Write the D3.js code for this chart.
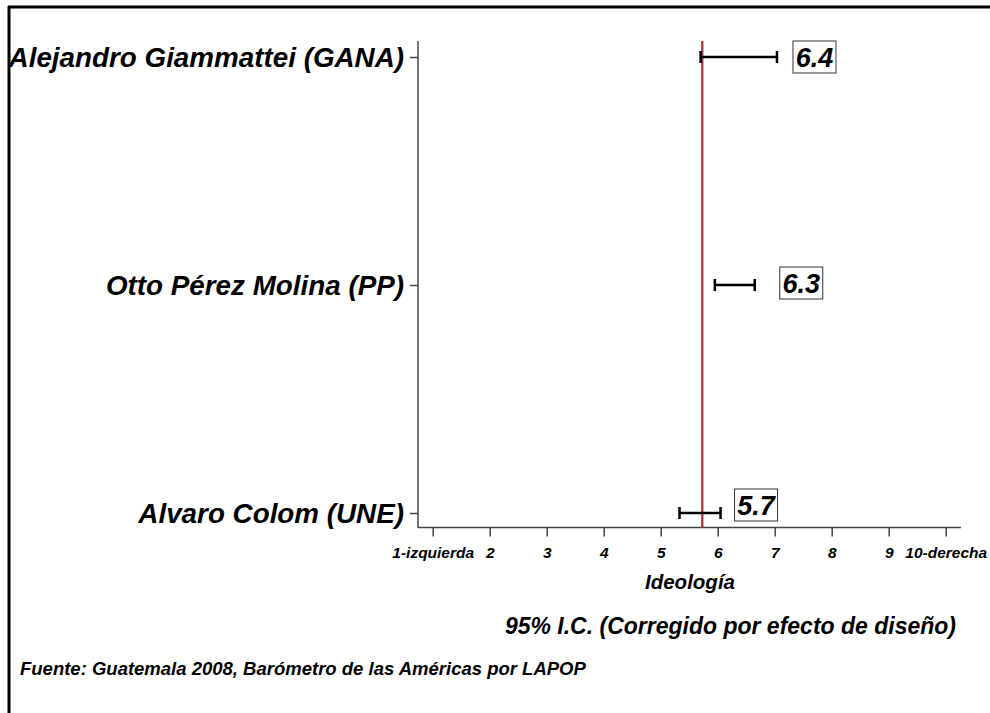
<!DOCTYPE html>
<html><head><meta charset="utf-8">
<script src="https://cdn.jsdelivr.net/npm/d3@7"></script>
<style>
body{margin:0;background:#fff;}
text{font-family:"Liberation Sans",Arial,sans-serif;font-weight:bold;font-style:italic;fill:#000;}
</style></head>
<body><svg id="c" width="990" height="713"></svg>
<script>
// ---- data ----
const categories = ["Alejandro Giammattei (GANA)", "Otto Pérez Molina (PP)", "Alvaro Colom (UNE)"];
const means = [6.37, 6.30, 5.69];
const lower = [5.70, 5.95, 5.33];
const upper = [7.04, 6.65, 6.05];
const referenceValue = 5.73;
const tickValues = [1,2,3,4,5,6,7,8,9,10];
const tickLabels = ["1-izquierda","2","3","4","5","6","7","8","9","10-derecha"];
const xTitle = "Ideología";
const note1 = "95% I.C. (Corregido por efecto de diseño)";
const note2 = "Fuente: Guatemala 2008, Barómetro de las Américas por LAPOP";
// label placement offsets (layout only)
const labelDx = [16, 25, 14];
const labelDy = [0, -2, -8];

const svg = d3.select("#c");
// frame
svg.append("line").attr("x1",8).attr("x2",990).attr("y1",7).attr("y2",7).attr("stroke","#000").attr("stroke-width",3);
svg.append("line").attr("x1",9).attr("x2",9).attr("y1",6).attr("y2",713).attr("stroke","#000").attr("stroke-width",3);

const x = d3.scaleLinear().domain([1,10]).range([432.7,945.7]);
const y = d3.scalePoint().domain(categories).range([57,513]);
const axisColor = "#444";
const axTop = 41, axBottom = 527.5, axLeft = 418, axRight = 961;

// axes lines
svg.append("line").attr("x1",axLeft).attr("x2",axLeft).attr("y1",axTop).attr("y2",axBottom).attr("stroke",axisColor).attr("stroke-width",1.5);
svg.append("line").attr("x1",axLeft).attr("x2",axRight).attr("y1",axBottom).attr("y2",axBottom).attr("stroke",axisColor).attr("stroke-width",1.5);

// x axis ticks
const xAxis = d3.axisBottom(x).tickValues(tickValues).tickSize(9).tickFormat((d,i)=>tickLabels[i]);
const gx = svg.append("g").attr("transform",`translate(0,${axBottom})`).call(xAxis);
gx.select(".domain").remove();
gx.selectAll(".tick line").attr("stroke",axisColor).attr("stroke-width",1.5);
gx.selectAll(".tick text").attr("y",30).attr("dy",0).style("font-size","15.5px").style("font-family","'Liberation Sans',Arial,sans-serif");

// y axis ticks
const yAxis = d3.axisLeft(y).tickSize(8).tickPadding(6);
const gy = svg.append("g").attr("transform",`translate(${axLeft},0)`).call(yAxis);
gy.select(".domain").remove();
gy.selectAll(".tick line").attr("stroke",axisColor).attr("stroke-width",1.5);
gy.selectAll(".tick text").attr("dy","0.35em").style("font-size","27.8px").style("font-family","'Liberation Sans',Arial,sans-serif");

// reference line
svg.append("line").attr("x1",x(referenceValue)).attr("x2",x(referenceValue)).attr("y1",axTop).attr("y2",axBottom)
  .attr("stroke","#a32f37").attr("stroke-width",2.2);

// error bars
const rows = categories.map((c,i)=>({c,m:means[i],lo:lower[i],hi:upper[i],i}));
const eb = svg.append("g").selectAll("g").data(rows).join("g");
eb.append("line").attr("x1",d=>x(d.lo)).attr("x2",d=>x(d.hi)).attr("y1",d=>y(d.c)).attr("y2",d=>y(d.c)).attr("stroke","#000").attr("stroke-width",2.5);
eb.append("line").attr("x1",d=>x(d.lo)).attr("x2",d=>x(d.lo)).attr("y1",d=>y(d.c)-6).attr("y2",d=>y(d.c)+6).attr("stroke","#000").attr("stroke-width",2.5);
eb.append("line").attr("x1",d=>x(d.hi)).attr("x2",d=>x(d.hi)).attr("y1",d=>y(d.c)-6).attr("y2",d=>y(d.c)+6).attr("stroke","#000").attr("stroke-width",2.5);

// value labels with boxes
const lab = svg.append("g").selectAll("g").data(rows).join("g")
  .attr("transform",d=>`translate(${x(d.hi)+labelDx[d.i]},${y(d.c)+labelDy[d.i]})`);
lab.append("rect").attr("x",0).attr("y",-16).attr("width",43).attr("height",32).attr("fill","#fff").attr("stroke","#333").attr("stroke-width",1);
lab.append("text").attr("x",21.5).attr("y",9.5).attr("text-anchor","middle").style("font-size","27px").text(d=>d3.format(".1f")(d.m));

// axis title and notes
svg.append("text").attr("x",690).attr("y",589).attr("text-anchor","middle").style("font-size","20.5px").text(xTitle);
svg.append("text").attr("x",956).attr("y",634).attr("text-anchor","end").style("font-size","23px").text(note1);
svg.append("text").attr("x",20).attr("y",675).attr("text-anchor","start").style("font-size","18.5px").text(note2);
</script></body></html>
